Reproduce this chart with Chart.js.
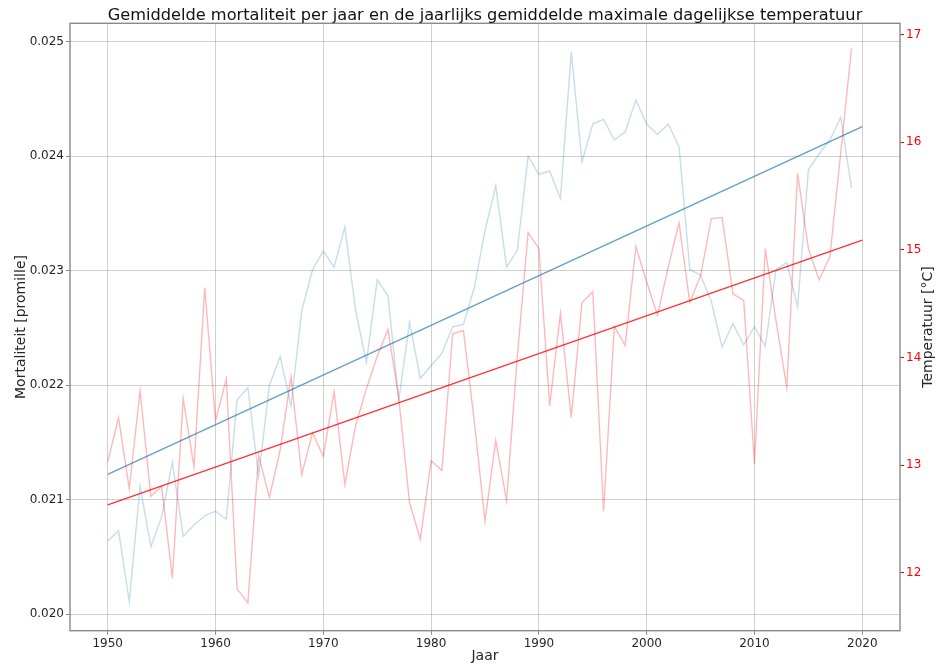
<!DOCTYPE html>
<html>
<head>
<meta charset="utf-8">
<title>Mortaliteit en temperatuur</title>
<script src="https://cdn.jsdelivr.net/npm/chart.js@4/dist/chart.umd.min.js"></script>
<style>
  html, body { margin: 0; padding: 0; background: #ffffff; }
  #wrap { width: 944px; height: 668px; position: relative; }
</style>
</head>
<body>
<div id="wrap"><canvas id="chart" width="944" height="668"></canvas></div>
<script>
// Years 1950 .. 2019
const years = [
  1950, 1951, 1952, 1953, 1954, 1955, 1956, 1957, 1958, 1959,
  1960, 1961, 1962, 1963, 1964, 1965, 1966, 1967, 1968, 1969,
  1970, 1971, 1972, 1973, 1974, 1975, 1976, 1977, 1978, 1979,
  1980, 1981, 1982, 1983, 1984, 1985, 1986, 1987, 1988, 1989,
  1990, 1991, 1992, 1993, 1994, 1995, 1996, 1997, 1998, 1999,
  2000, 2001, 2002, 2003, 2004, 2005, 2006, 2007, 2008, 2009,
  2010, 2011, 2012, 2013, 2014, 2015, 2016, 2017, 2018, 2019
];

// Average mortality per year [promille]
const mortality = [
  0.02064, 0.02073, 0.02011, 0.02112, 0.02059, 0.02085, 0.02133, 0.02068, 0.02078, 0.02086,
  0.02090, 0.02083, 0.02187, 0.02198, 0.02120, 0.02200, 0.02225, 0.02182, 0.02265, 0.02301,
  0.02317, 0.02303, 0.02338, 0.02265, 0.02220, 0.02292, 0.02278, 0.02187, 0.02255, 0.02206,
  0.02217, 0.02228, 0.02251, 0.02253, 0.02285, 0.02335, 0.02374, 0.02303, 0.02318, 0.02400,
  0.02384, 0.02387, 0.02363, 0.02491, 0.02395, 0.02428, 0.02432, 0.02414, 0.02421, 0.02449,
  0.02428, 0.02419, 0.02428, 0.02408, 0.02301, 0.02296, 0.02273, 0.02233, 0.02254, 0.02235,
  0.02251, 0.02234, 0.02301, 0.02307, 0.02268, 0.02388, 0.02402, 0.02414, 0.02434, 0.02372
];

// Yearly average of the daily maximum temperature [°C]
const temperature = [
  13.03, 13.44, 12.78, 13.69, 12.71, 12.80, 11.95, 13.62, 12.98, 14.65,
  13.41, 13.80, 11.85, 11.72, 13.09, 12.70, 13.14, 13.82, 12.91, 13.30,
  13.08, 13.68, 12.82, 13.37, 13.71, 14.01, 14.26, 13.62, 12.65, 12.31,
  13.04, 12.95, 14.22, 14.25, 13.41, 12.48, 13.23, 12.67, 14.01, 15.16,
  15.01, 13.55, 14.41, 13.44, 14.51, 14.61, 12.57, 14.29, 14.11, 15.03,
  14.70, 14.39, 14.84, 15.25, 14.51, 14.76, 15.29, 15.30, 14.59, 14.53,
  13.01, 15.01, 14.34, 13.72, 15.71, 15.01, 14.72, 14.94, 15.90, 16.87
];

// Linear trend lines, given by their end points
const trendYears = [1950, 2020];
const mortalityTrend = [0.021222, 0.024257];
const temperatureTrend = [12.63, 15.09];

// Tick labels
const yearTicks = [1950, 1960, 1970, 1980, 1990, 2000, 2010, 2020];
const mortalityTicks = [0.020, 0.021, 0.022, 0.023, 0.024, 0.025];
const temperatureTicks = [12, 13, 14, 15, 16, 17];

const titleText = 'Gemiddelde mortaliteit per jaar en de jaarlijks gemiddelde maximale dagelijkse temperatuur';
const xTitle = 'Jaar';
const yLeftTitle = 'Mortaliteit [promille]';
const yRightTitle = 'Temperatuur [°C]';

const FONT = "'DejaVu Sans', 'Liberation Sans', sans-serif";
const SPINE = '#8a8a8a';
const GRID = 'rgba(170,170,170,0.55)';
const TEXT = '#262626';
const RED = '#ff0000';

const pairs = (xs, ys) => xs.map((x, i) => ({ x: x, y: ys[i] }));

// Frame, figure title and axis titles
const decorations = {
  id: 'decorations',
  afterDraw(chart) {
    const { ctx, chartArea: a } = chart;
    ctx.save();
    ctx.strokeStyle = SPINE;
    ctx.lineWidth = 1.4;
    ctx.strokeRect(a.left, a.top, a.right - a.left, a.bottom - a.top);

    ctx.fillStyle = '#111111';
    ctx.font = '16.2px ' + FONT;
    ctx.textAlign = 'center';
    ctx.textBaseline = 'alphabetic';
    ctx.fillText(titleText, (a.left + a.right) / 2, 19.5);

    ctx.fillStyle = TEXT;
    ctx.font = '14px ' + FONT;
    ctx.textBaseline = 'middle';
    ctx.fillText(xTitle, (a.left + a.right) / 2, 656);

    const midY = (a.top + a.bottom) / 2;
    ctx.save();
    ctx.translate(21, midY);
    ctx.rotate(-Math.PI / 2);
    ctx.fillText(yLeftTitle, 0, 0);
    ctx.restore();

    ctx.save();
    ctx.translate(928, midY);
    ctx.rotate(-Math.PI / 2);
    ctx.fillText(yRightTitle, 0, 0);
    ctx.restore();
    ctx.restore();
  }
};

new Chart(document.getElementById('chart'), {
  type: 'line',
  data: {
    datasets: [
      {
        label: 'Mortaliteit',
        data: pairs(years, mortality),
        yAxisID: 'y',
        borderColor: 'rgba(31,119,180,0.25)',
        borderWidth: 1.4,
        order: 4
      },
      {
        label: 'Trend mortaliteit',
        data: pairs(trendYears, mortalityTrend),
        yAxisID: 'y',
        borderColor: 'rgba(31,119,180,0.7)',
        borderWidth: 1.4,
        order: 3
      },
      {
        label: 'Temperatuur',
        data: pairs(years, temperature),
        yAxisID: 'y2',
        borderColor: 'rgba(255,0,0,0.28)',
        borderWidth: 1.4,
        order: 2
      },
      {
        label: 'Trend temperatuur',
        data: pairs(trendYears, temperatureTrend),
        yAxisID: 'y2',
        borderColor: 'rgba(255,0,0,0.8)',
        borderWidth: 1.4,
        order: 1
      }
    ]
  },
  options: {
    responsive: false,
    animation: false,
    parsing: true,
    elements: {
      point: { radius: 0, hoverRadius: 0 },
      line: { tension: 0, fill: false }
    },
    layout: { padding: { top: 23.3, left: 0, right: 0, bottom: 0 } },
    plugins: {
      legend: { display: false },
      tooltip: { enabled: false },
      title: { display: false }
    },
    scales: {
      x: {
        type: 'linear',
        position: 'bottom',
        min: 1946.5,
        max: 2023.5,
        afterBuildTicks(s) { s.ticks = yearTicks.map(v => ({ value: v })); },
        afterFit(s) { s.height = 37.3; },
        border: { display: false },
        grid: { color: GRID, lineWidth: 1, drawTicks: true, tickLength: 4, tickColor: SPINE, tickWidth: 1 },
        ticks: {
          color: TEXT,
          font: { family: FONT, size: 12 },
          padding: 2,
          maxRotation: 0,
          callback: v => String(v)
        }
      },
      y: {
        type: 'linear',
        position: 'left',
        min: 0.019857,
        max: 0.025159,
        afterBuildTicks(s) { s.ticks = mortalityTicks.map(v => ({ value: v })); },
        afterFit(s) { s.width = 70; },
        border: { display: false },
        grid: { color: GRID, lineWidth: 1, drawTicks: true, tickLength: 4, tickColor: SPINE, tickWidth: 1 },
        ticks: {
          color: TEXT,
          font: { family: FONT, size: 12 },
          padding: 2,
          callback: v => Number(v).toFixed(3)
        }
      },
      y2: {
        type: 'linear',
        position: 'right',
        min: 11.461,
        max: 17.104,
        afterBuildTicks(s) { s.ticks = temperatureTicks.map(v => ({ value: v })); },
        afterFit(s) { s.width = 44; },
        border: { display: false },
        grid: { display: true, drawOnChartArea: false, drawTicks: true, tickLength: 4, tickColor: RED, tickWidth: 1 },
        ticks: {
          color: RED,
          font: { family: FONT, size: 12 },
          padding: 2,
          callback: v => String(v)
        }
      }
    }
  },
  plugins: [decorations]
});
</script>
</body>
</html>
